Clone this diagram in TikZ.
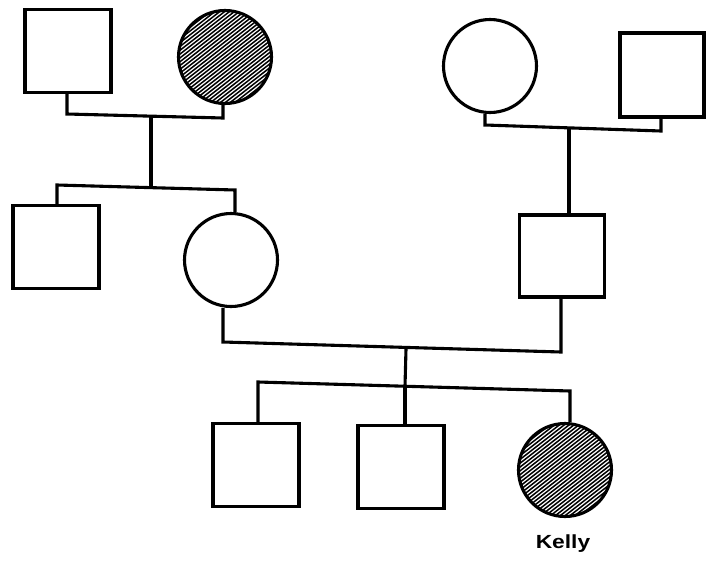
\documentclass[tikz,border=0pt]{standalone}
\usepackage{fontspec}
\setmainfont{Liberation Sans}
\begin{document}
\begin{tikzpicture}[x=1pt,y=-1pt,
  line width=3.1pt, line join=miter,
  male/.style={draw, rectangle, minimum width=86pt, minimum height=83pt, inner sep=0pt},
  female/.style={draw, circle, minimum size=93pt, inner sep=0pt},
  affected/.style={female, path picture={
      \foreach \d in {-66,-63,...,66}{
        \pgfmathsetmacro{\xa}{-0.616*\d-70*0.788}
        \pgfmathsetmacro{\ya}{0.788*\d-70*0.616}
        \pgfmathsetmacro{\xb}{-0.616*\d+70*0.788}
        \pgfmathsetmacro{\yb}{0.788*\d+70*0.616}
        \draw[line width=1.5pt] ([xshift=\xa pt, yshift=\ya pt]path picture bounding box.center)
          -- ([xshift=\xb pt, yshift=\yb pt]path picture bounding box.center);}}}]
\useasboundingbox (0,0) rectangle (706,565);
% generation I
\node[male] (A) at (68,51) {};
\node[affected] (B) at (225,57) {};
\node[female] (E) at (490,66) {};
\node[male, minimum width=84pt, minimum height=84pt] (F) at (662,75) {};
% generation II
\node[male] (C) at (56,247) {};
\node[female] (D) at (231,260) {};
\node[male, minimum width=85pt, minimum height=82pt] (G) at (562,256) {};
% generation III
\node[male] (H) at (256,465) {};
\node[male] (I) at (401,467) {};
\node[affected] (K) at (565,470) {};
\node[font=\bfseries\fontsize{19}{21}\selectfont, xscale=1.2, anchor=base] (kelly) at (563,548) {Kelly};
% couple 1
\coordinate (m1l) at (67,114);
\coordinate (m1r) at (223,118);
\coordinate (s1) at (151,116);
\coordinate (b1m) at (151,187);
\coordinate (b1l) at (57,185);
\coordinate (b1r) at (235,190);
\draw (A.south -| m1l) -- (m1l) -- (m1r) -- (B.south -| m1r);
\draw (s1) -- (b1m);
\draw (C.north -| b1l) -- (b1l) -- (b1r) -- (D.north -| b1r);
% couple 2
\coordinate (m2l) at (485,125);
\coordinate (m2r) at (661,131);
\coordinate (s2) at (569,128);
\draw (E.south -| m2l) -- (m2l) -- (m2r) -- (F.south -| m2r);
\draw (s2) -- (G.north -| s2);
% couple 3
\coordinate (m3l) at (223,342);
\coordinate (m3r) at (561,352);
\coordinate (s3) at (406,349);
\coordinate (b3m) at (405,386);
\coordinate (b3l) at (258,382);
\coordinate (b3r) at (570,391);
\draw (D.south -| m3l) -- (m3l) -- (m3r) -- (G.south -| m3r);
\draw (s3) -- (b3m);
\draw (H.north -| b3l) -- (b3l) -- (b3r) -- (K.north -| b3r);
\draw (b3m) -- (I.north -| b3m);
\end{tikzpicture}
\end{document}
